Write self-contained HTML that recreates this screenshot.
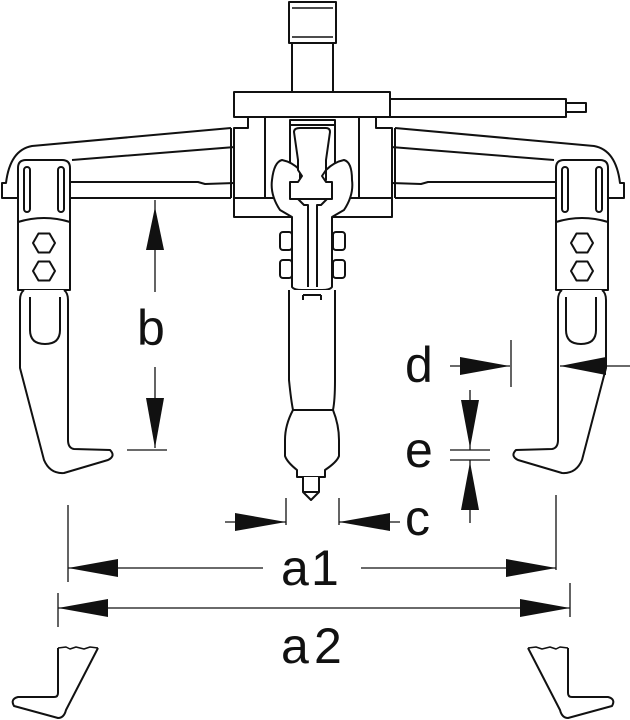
<!DOCTYPE html>
<html><head><meta charset="utf-8"><style>
html,body{margin:0;padding:0;background:#fff;}
svg{display:block;}
text{font-family:"Liberation Sans",sans-serif;fill:#111;}
</style></head><body>
<svg width="630" height="720" viewBox="0 0 630 720" xmlns="http://www.w3.org/2000/svg">
<defs>
<g id="half" fill="none" stroke="#111" stroke-width="2" stroke-linejoin="round">
  <!-- arm -->
  <path d="M231,198 L2,198 L2,183 L6,183 Q10,150 32,146 L231,128" fill="#fff"/>
  <path d="M72,160 L235,147 Q251,147 251,165 Q251,183 235,183 L205,184 L198,182 L70,182"/>
  <line x1="231" y1="128" x2="231" y2="198"/>
  <!-- block on arm -->
  <path d="M18,290 L18,168 Q18,160 26,160 L62,160 Q70,160 70,168 L70,290 Z" fill="#fff"/>
  <rect x="24" y="167" width="6" height="45" rx="3"/>
  <rect x="58" y="167" width="6" height="45" rx="3"/>
  <path d="M18,222 Q44,214 70,222"/>
  <polygon points="33,243 38.5,233.5 49.5,233.5 55,243 49.5,252.5 38.5,252.5"/>
  <polygon points="33,271 38.5,261.5 49.5,261.5 55,271 49.5,280.5 38.5,280.5"/>
  <!-- leg -->
  <path d="M24,290 Q20,293 20,300 L20,368 L44,460 Q50,474 64,473 L108,460 Q116,456 110,450 L74,449 Q68,448 68,440 L68,300 Q68,293 64,290" fill="#fff"/>
  <path d="M30,297 L30,330 Q30,344 45,344 Q60,344 60,330 L60,297"/>
  <!-- lower leg piece -->
  <path d="M58,648 L58,693 Q58,697 54,697 L18,697 Q10,699 14,706 L58,718 Q64,718 66,710 L98,648"/>
  <path d="M58,648 L66,647 L70,649 L76,647 L84,649 L90,647 L98,648" stroke-width="1.5"/>
</g>
<marker id="ah" viewBox="0 0 10 10" refX="10" refY="5" markerWidth="0" markerHeight="0"/>
</defs>

<use href="#half"/>
<use href="#half" transform="translate(626,0) scale(-1,1)"/>

<g fill="none" stroke="#111" stroke-width="2" stroke-linejoin="round">
  <!-- screw -->
  <rect x="289" y="2" width="47" height="41" fill="#fff"/>
  <line x1="292" y1="8" x2="333" y2="8" stroke-width="1.5"/>
  <line x1="292" y1="37" x2="333" y2="37" stroke-width="1.5"/>
  <rect x="292" y="43" width="41" height="49" fill="#fff"/>
  <!-- top plate & handle -->
  <rect x="234" y="92" width="156" height="25" fill="#fff"/>
  <rect x="390" y="99" width="176" height="18" fill="#fff"/>
  <rect x="566" y="103" width="20" height="9" fill="#fff"/>
  <!-- center block -->
  <path d="M234,217 L234,128 L248,128 L248,117 L376,117 L376,128 L392,128 L392,217 Z" fill="#fff"/>
  <line x1="265" y1="117" x2="265" y2="198"/>
  <line x1="359" y1="117" x2="359" y2="198"/>
  <line x1="234" y1="198" x2="392" y2="198"/>
  <path d="M290,198 L290,120 L335,120 L335,198"/>
  <line x1="290" y1="125" x2="335" y2="125"/>
  <!-- wings & rod -->
  <path d="M292,217 L280,210 Q270,195 272,180 Q274,162 282,160 Q292,162 300,170 L300,180 L326,180 L326,170 Q334,162 344,160 Q352,162 352,180 Q354,195 344,210 L332,217 L332,287 Q330,290 322,290 L302,290 Q294,290 292,287 Z" fill="#fff"/>
  <path d="M294,132 Q294,128 300,128 L326,128 Q330,128 330,132 L326,160 L326,170 L322,176 L326,182 L332,182 L332,199 L290,199 L290,182 L298,182 L302,176 L298,170 L298,160 Z" fill="#fff"/>
  <path d="M298,199 L304,205 L308,205 L308,287 M317,287 L317,205 L321,205 L327,199"/>
  <!-- bolts -->
  <rect x="280" y="232" width="12" height="18" rx="3"/>
  <rect x="280" y="260" width="12" height="18" rx="3"/>
  <rect x="333" y="232" width="12" height="18" rx="3"/>
  <rect x="333" y="260" width="12" height="18" rx="3"/>
  <!-- lower rod -->
  <path d="M289,290 L289,380 Q291,400 293,410 Q285,425 285,440 L285,456 Q287,462 297,470 L297,477 L325,477 L325,470 Q337,462 339,456 L339,440 Q339,425 333,410 Q335,400 335,380 L335,290" fill="#fff"/>
  <path d="M303,295 L321,295 M303,295 L303,300 M321,295 L321,300"/>
  <line x1="293" y1="410" x2="333" y2="410"/>
  <line x1="297" y1="477" x2="325" y2="477"/>
  <path d="M303,477 L303,492 L311,500 L319,492 L319,477" fill="#fff"/>
  <line x1="303" y1="492" x2="319" y2="492"/>
</g>

<!-- dimensions -->
<g stroke="#111" stroke-width="1.3" fill="none">
  <line x1="155" y1="200" x2="155" y2="292"/>
  <line x1="155" y1="367" x2="155" y2="448"/>
  <line x1="127" y1="450" x2="167" y2="450"/>
  <line x1="450" y1="366" x2="510" y2="366"/>
  <line x1="511" y1="340" x2="511" y2="387"/>
  <line x1="560" y1="366" x2="630" y2="366"/>
  <line x1="450" y1="450" x2="490" y2="450"/>
  <line x1="450" y1="460" x2="490" y2="460"/>
  <line x1="470" y1="390" x2="470" y2="450"/>
  <line x1="470" y1="460" x2="470" y2="523"/>
  <line x1="225" y1="522" x2="286" y2="522"/>
  <line x1="286" y1="498" x2="286" y2="525"/>
  <line x1="339" y1="498" x2="339" y2="525"/>
  <line x1="339" y1="522" x2="400" y2="522"/>
  <line x1="68" y1="505" x2="68" y2="582"/>
  <line x1="556" y1="495" x2="556" y2="570"/>
  <line x1="68" y1="568" x2="263" y2="568"/>
  <line x1="361" y1="568" x2="556" y2="568"/>
  <line x1="58" y1="593" x2="58" y2="627"/>
  <line x1="570" y1="583" x2="570" y2="617"/>
  <line x1="58" y1="608" x2="570" y2="608"/>
</g>
<g fill="#111">
  <polygon points="155,207 146,250 164,250"/>
  <polygon points="155,448 146,398 164,398"/>
  <polygon points="510,366 460,357 460,375"/>
  <polygon points="560,366 606,357 606,375"/>
  <polygon points="470,448 461,400 479,400"/>
  <polygon points="470,462 461,510 479,510"/>
  <polygon points="286,522 235,513 235,531"/>
  <polygon points="339,522 390,513 390,531"/>
  <polygon points="68,568 118,559 118,577"/>
  <polygon points="556,568 506,559 506,577"/>
  <polygon points="58,608 108,599 108,617"/>
  <polygon points="570,608 520,599 520,617"/>
</g>
<g font-size="50">
  <text x="137" y="345">b</text>
  <text x="405" y="382">d</text>
  <text x="405" y="467">e</text>
  <text x="405" y="535">c</text>
  <text x="281" y="585">a</text><text x="311" y="585">1</text>
  <text x="281" y="663">a</text><text x="314" y="663">2</text>
</g>
</svg>
</body></html>
